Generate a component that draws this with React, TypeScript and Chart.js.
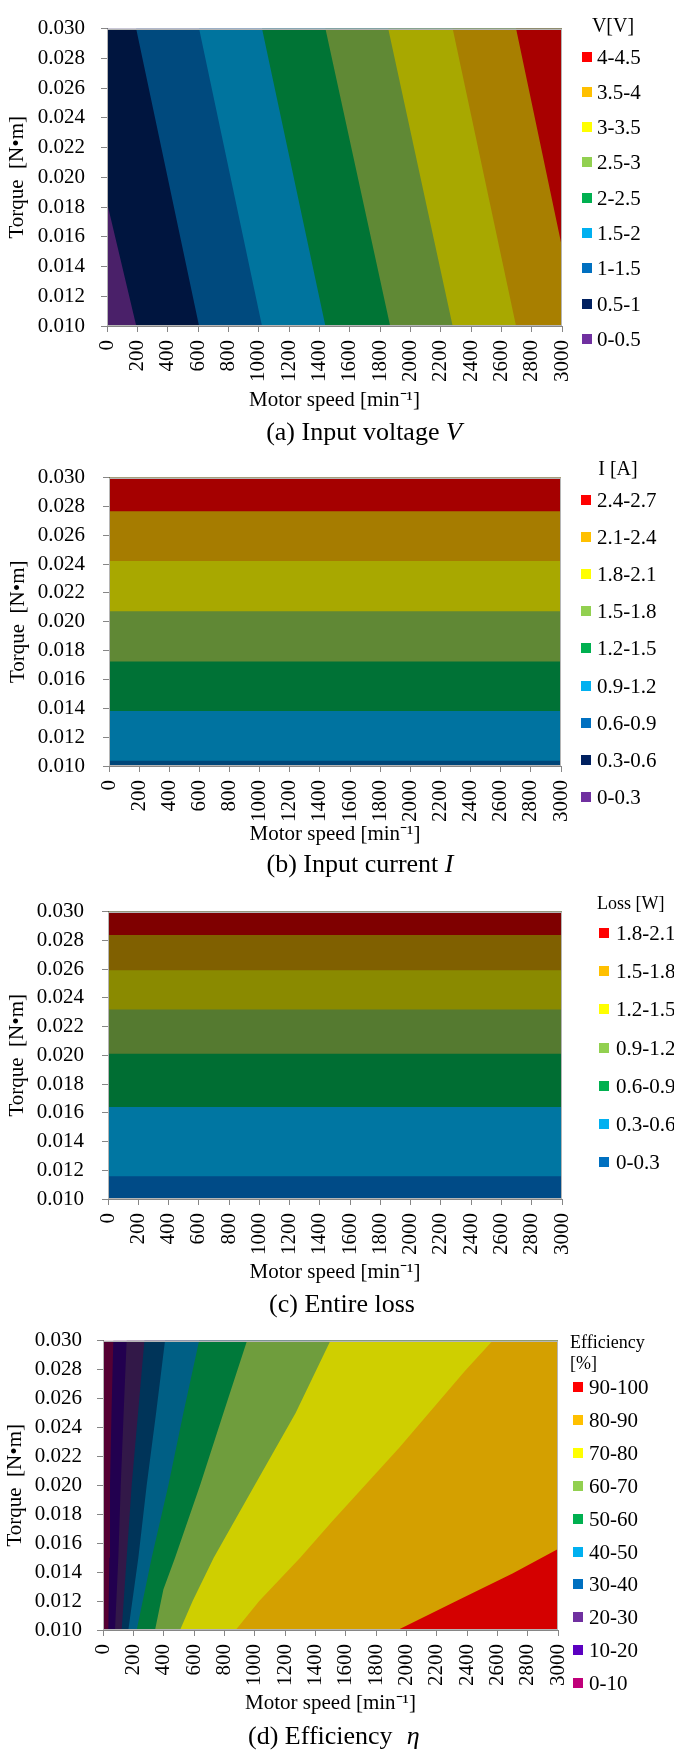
import React, { useEffect, useRef } from 'react';
import { Chart, registerables } from 'chart.js';

Chart.register(...registerables);

const SERIF = "'Liberation Serif', 'Times New Roman', Times, serif";
const AXIS_GREY = '#868686';
const FRAME_GREY = '#b5b5b5';
const PAGE_W = 674;
const PAGE_H = 1753;
const AXIS_FONT_SIZE = 21;

// Shared axes: motor speed [min^-1] and torque [N·m]
const speedRange = [0, 3000];
const speedStep = 200;
const torqueRange = [0.01, 0.03];
const torqueStep = 0.002;

// Legend key colours, lowest class first
const keyColours = ['#7030A0', '#002060', '#0070C0', '#00B0F0', '#00B050', '#92D050', '#FFFF00', '#FFC000', '#FF0000'];

// (a) Input voltage V [V]
const voltageClasses = ['0-0.5', '0.5-1', '1-1.5', '1.5-2', '2-2.5', '2.5-3', '3-3.5', '3.5-4', '4-4.5'];
const voltageShade = ['#4A2069', '#00153F', '#004A7E', '#00749E', '#007435', '#608935', '#A8A800', '#A87F00', '#A80000'];
// contour lines [speed, torque], traced from low to high torque
const voltageAt05 = [[193, 0.01], [0, 0.0183], [0, 0.03]];
const voltageAt10 = [[607, 0.01], [192, 0.03]];
const voltageAt15 = [[1022, 0.01], [607, 0.03]];
const voltageAt20 = [[1440, 0.01], [1022, 0.03]];
const voltageAt25 = [[1867, 0.01], [1440, 0.03]];
const voltageAt30 = [[2279, 0.01], [1854, 0.03]];
const voltageAt35 = [[2697, 0.01], [2279, 0.03]];
const voltageAt40 = [[3000, 0.01], [3000, 0.0153], [2697, 0.03]];

// (b) Input current I [A]: torque where each level (0.9 ... 2.4 A) is reached
const currentClasses = ['0-0.3', '0.3-0.6', '0.6-0.9', '0.9-1.2', '1.2-1.5', '1.5-1.8', '1.8-2.1', '2.1-2.4', '2.4-2.7'];
const currentShade = ['#004678', '#0073A0', '#007236', '#608835', '#A8A800', '#A67C00', '#A50000'];
const currentLevelTorque = [0.01037, 0.01382, 0.01725, 0.02073, 0.02422, 0.02767];

// (c) Entire loss [W]: torque where each level (0.3 ... 1.8 W) is reached
const lossClasses = ['0-0.3', '0.3-0.6', '0.6-0.9', '0.9-1.2', '1.2-1.5', '1.5-1.8', '1.8-2.1'];
const lossShade = ['#004B87', '#0076A2', '#006E33', '#557A30', '#8A8A00', '#806000', '#7F0000'];
const lossLevelTorque = [0.01158, 0.0164, 0.02011, 0.02319, 0.02591, 0.02837];

// (d) Efficiency [%]
const efficiencyClasses = ['0-10', '10-20', '20-30', '30-40', '40-50', '50-60', '60-70', '70-80', '80-90', '90-100'];
const efficiencyKey = ['#C0007A', '#5B00C0', '#7030A0', '#0070C0', '#00B0F0', '#00B050', '#92D050', '#FFFF00', '#FFC000', '#FF0000'];
const efficiencyShade = ['#550033', '#22004F', '#321848', '#003459', '#005F85', '#00793A', '#6F9D3D', '#CFCF00', '#D4A000', '#D40000'];
const efficiencyAt10 = [[35, 0.01], [42, 0.015], [46, 0.02], [56, 0.025], [68, 0.03]];
const efficiencyAt20 = [[79, 0.01], [101, 0.015], [117, 0.02], [136, 0.025], [156, 0.03]];
const efficiencyAt30 = [[123, 0.01], [156, 0.015], [189, 0.02], [231, 0.025], [273, 0.03]];
const efficiencyAt40 = [[167, 0.01], [233, 0.015], [288, 0.02], [350, 0.025], [409, 0.03]];
const efficiencyAt50 = [[222, 0.01], [321, 0.015], [431, 0.02], [530, 0.025], [634, 0.03]];
const efficiencyAt60 = [[343, 0.01], [398, 0.0128], [475, 0.015], [640, 0.02], [794, 0.025], [950, 0.03]];
const efficiencyAt70 = [[508, 0.01], [591, 0.012], [730, 0.015], [1000, 0.02], [1270, 0.025], [1500, 0.03]];
const efficiencyAt80 = [[875, 0.01], [1030, 0.012], [1300, 0.015], [1510, 0.0175], [1953, 0.0226], [2386, 0.0279], [2570, 0.03]];
const efficiencyAt90 = [[1943, 0.01], [2350, 0.0121], [2700, 0.0139], [3000, 0.0156], [3000, 0.03]];

// Plot edges used as the boundary of the lowest class
const leftEdge = [[speedRange[0], torqueRange[0]], [speedRange[0], torqueRange[1]]];
const bottomEdge = speedRange.map((n) => [n, torqueRange[0]]);
const levelLine = (t: number) => speedRange.map((n) => [n, t]);

type Panel = {
  key: string;
  indexAxis: 'x' | 'y';
  edges: number[][][];
  shades: string[];
  canvasTop: number;
  canvasBottom: number;
  plot: { left: number; top: number; right: number; bottom: number };
  xTitleY: number;
  yTitleX: number;
  yTickPad: number;
  legend: {
    title: string[];
    titleSize: number;
    titleCenter?: number;
    titleLeft?: number;
    titleY: number;
    boxX: number;
    textX: number;
    firstY: number;
    step: number;
    labels: string[];
    colours: string[];
  };
};

const panels: Panel[] = [
  {
    key: 'voltage',
    indexAxis: 'y',
    edges: [leftEdge, voltageAt05, voltageAt10, voltageAt15, voltageAt20, voltageAt25, voltageAt30, voltageAt35, voltageAt40],
    shades: voltageShade,
    canvasTop: 0,
    canvasBottom: 420,
    plot: { left: 107, top: 15, right: 562, bottom: 326 },
    xTitleY: 400,
    yTitleX: 17,
    yTickPad: 16,
    legend: {
      title: ['V[V]'], titleSize: 20, titleCenter: 613, titleY: 25,
      boxX: 582, textX: 597, firstY: 56.5, step: 35.3,
      labels: [...voltageClasses].reverse(), colours: [...keyColours].reverse(),
    },
  },
  {
    key: 'current',
    indexAxis: 'x',
    edges: [bottomEdge, ...currentLevelTorque.map(levelLine)],
    shades: currentShade,
    canvasTop: 447,
    canvasBottom: 854,
    plot: { left: 109, top: 462, right: 561, bottom: 766 },
    xTitleY: 834,
    yTitleX: 18,
    yTickPad: 18,
    legend: {
      title: ['I [A]'], titleSize: 20, titleCenter: 618, titleY: 468,
      boxX: 581, textX: 597, firstY: 500, step: 37.1,
      labels: [...currentClasses].reverse(), colours: [...keyColours].reverse(),
    },
  },
  {
    key: 'loss',
    indexAxis: 'x',
    edges: [bottomEdge, ...lossLevelTorque.map(levelLine)],
    shades: lossShade,
    canvasTop: 881,
    canvasBottom: 1292,
    plot: { left: 108, top: 896, right: 562, bottom: 1199 },
    xTitleY: 1272,
    yTitleX: 17.5,
    yTickPad: 18,
    legend: {
      title: ['Loss [W]'], titleSize: 18, titleLeft: 597, titleY: 903,
      boxX: 599, textX: 616, firstY: 933, step: 38.2,
      labels: [...lossClasses].reverse(), colours: keyColours.slice(2).reverse(),
    },
  },
  {
    key: 'efficiency',
    indexAxis: 'y',
    edges: [leftEdge, efficiencyAt10, efficiencyAt20, efficiencyAt30, efficiencyAt40, efficiencyAt50, efficiencyAt60, efficiencyAt70, efficiencyAt80, efficiencyAt90],
    shades: efficiencyShade,
    canvasTop: 1313,
    canvasBottom: 1723,
    plot: { left: 103, top: 1328, right: 558, bottom: 1630 },
    xTitleY: 1703,
    yTitleX: 15,
    yTickPad: 15,
    legend: {
      title: ['Efficiency', '[%]'], titleSize: 18, titleLeft: 570, titleY: 1342,
      boxX: 573, textX: 589, firstY: 1387, step: 32.9,
      labels: [...efficiencyClasses].reverse(), colours: [...efficiencyKey].reverse(),
    },
  },
];

// Light frame around the plot area (left/bottom axis lines are drawn over it)
const plotFrame = {
  id: 'plotFrame',
  afterDatasetsDraw(chart: any) {
    const { ctx, chartArea: a } = chart;
    ctx.save();
    ctx.strokeStyle = FRAME_GREY;
    ctx.lineWidth = 1;
    ctx.strokeRect(Math.round(a.left) + 0.5, Math.round(a.top) + 0.5, Math.round(a.right - a.left) - 1, Math.round(a.bottom - a.top) - 1);
    ctx.restore();
  },
};

function buildChart(canvas: HTMLCanvasElement, p: Panel) {
  const vertical = p.indexAxis === 'y';
  const axisFont = { family: SERIF, size: AXIS_FONT_SIZE };
  const titleLine = AXIS_FONT_SIZE * 1.2;
  const datasets = p.edges.map((edge, i) => ({
    data: edge.map(([n, t]) => ({ x: n, y: t })),
    backgroundColor: p.shades[i],
    borderWidth: 0,
    pointRadius: 0,
    pointHoverRadius: 0,
    tension: 0,
    // paint the region above this contour level; lower classes are painted first
    fill: { value: vertical ? speedRange[1] : torqueRange[1] },
    order: p.edges.length - i,
  }));

  return new Chart(canvas, {
    type: 'line',
    data: { datasets },
    options: {
      indexAxis: p.indexAxis,
      responsive: false,
      animation: false,
      events: [],
      layout: {
        padding: { top: p.plot.top - p.canvasTop, right: PAGE_W - p.plot.right, left: 0, bottom: 0 },
      },
      plugins: {
        legend: { display: false },
        tooltip: { enabled: false },
      },
      scales: {
        x: {
          type: 'linear',
          position: 'bottom',
          min: speedRange[0],
          max: speedRange[1],
          z: 1,
          afterFit: (s: any) => { s.height = p.canvasBottom - p.plot.bottom; },
          grid: { drawOnChartArea: false, drawTicks: true, tickLength: 6, color: AXIS_GREY },
          border: { display: true, color: AXIS_GREY, width: 1 },
          ticks: {
            stepSize: speedStep,
            autoSkip: false,
            minRotation: 90,
            maxRotation: 90,
            padding: 8,
            color: '#000',
            font: axisFont,
            callback: (v: any) => String(v),
          },
          title: {
            display: true,
            text: 'Motor speed [min\u207B\u00B9]',
            color: '#000',
            font: axisFont,
            padding: { top: 0, bottom: p.canvasBottom - p.xTitleY - titleLine / 2 },
          },
        },
        y: {
          type: 'linear',
          position: 'left',
          min: torqueRange[0],
          max: torqueRange[1],
          z: 1,
          afterFit: (s: any) => { s.width = p.plot.left; },
          grid: { drawOnChartArea: false, drawTicks: true, tickLength: 6, color: AXIS_GREY },
          border: { display: true, color: AXIS_GREY, width: 1 },
          ticks: {
            stepSize: torqueStep,
            padding: p.yTickPad,
            color: '#000',
            font: axisFont,
            callback: (v: any) => Number(v).toFixed(3),
          },
          title: {
            display: true,
            text: 'Torque  [N\u2022m]',
            color: '#000',
            font: axisFont,
            padding: { top: p.yTitleX - titleLine / 2, bottom: 0 },
          },
        },
      },
    } as any,
    plugins: [plotFrame],
  } as any);
}

function ContourChart({ panel }: { panel: Panel }) {
  const ref = useRef<HTMLCanvasElement>(null);
  useEffect(() => {
    if (!ref.current) return;
    const chart = buildChart(ref.current, panel);
    return () => chart.destroy();
  }, [panel]);
  const h = panel.canvasBottom - panel.canvasTop;
  return (
    <canvas
      ref={ref}
      width={PAGE_W}
      height={h}
      style={{ position: 'absolute', left: 0, top: panel.canvasTop, width: PAGE_W, height: h }}
    />
  );
}

function Legend({ spec }: { spec: Panel['legend'] }) {
  const text = { position: 'absolute' as const, fontFamily: SERIF, color: '#000', whiteSpace: 'nowrap' as const };
  return (
    <>
      {spec.title.map((line, k) => {
        const lh = spec.titleSize + 4;
        const top = spec.titleY + k * 21 - lh / 2;
        const style = spec.titleCenter !== undefined
          ? { ...text, left: spec.titleCenter - 60, width: 120, textAlign: 'center' as const, top, fontSize: spec.titleSize, lineHeight: lh + 'px' }
          : { ...text, left: spec.titleLeft, top, fontSize: spec.titleSize, lineHeight: lh + 'px' };
        return <div key={'t' + k} style={style}>{line}</div>;
      })}
      {spec.labels.map((label, k) => {
        const y = spec.firstY + k * spec.step;
        return (
          <React.Fragment key={label}>
            <div style={{ position: 'absolute', left: spec.boxX, top: y - 5, width: 10, height: 10, background: spec.colours[k] }} />
            <div style={{ ...text, left: spec.textX, top: y - 12, fontSize: 21, lineHeight: '24px' }}>{label}</div>
          </React.Fragment>
        );
      })}
    </>
  );
}

const captionStyle = {
  position: 'absolute' as const,
  fontFamily: SERIF,
  fontSize: 26,
  lineHeight: '30px',
  color: '#000',
  whiteSpace: 'nowrap' as const,
};

export default function App() {
  return (
    <div style={{ position: 'absolute', left: 0, top: 0, width: PAGE_W, height: PAGE_H, background: '#fff', overflow: 'hidden' }}>
      {panels.map((p) => (
        <React.Fragment key={p.key}>
          <ContourChart panel={p} />
          <Legend spec={p.legend} />
        </React.Fragment>
      ))}
      <div style={{ ...captionStyle, left: 364 - 150, width: 300, textAlign: 'center', top: 432 - 15 }}>
        (a) Input voltage <i>V</i>
      </div>
      <div style={{ ...captionStyle, left: 360 - 150, width: 300, textAlign: 'center', top: 864 - 15 }}>
        (b) Input current <i>I</i>
      </div>
      <div style={{ ...captionStyle, left: 342 - 150, width: 300, textAlign: 'center', top: 1304 - 15 }}>
        (c) Entire loss
      </div>
      <div style={{ ...captionStyle, left: 248, top: 1736 - 15 }}>
        (d) Efficiency<span style={{ display: 'inline-block', marginLeft: 14, fontStyle: 'italic' }}>η</span>
      </div>
    </div>
  );
}
